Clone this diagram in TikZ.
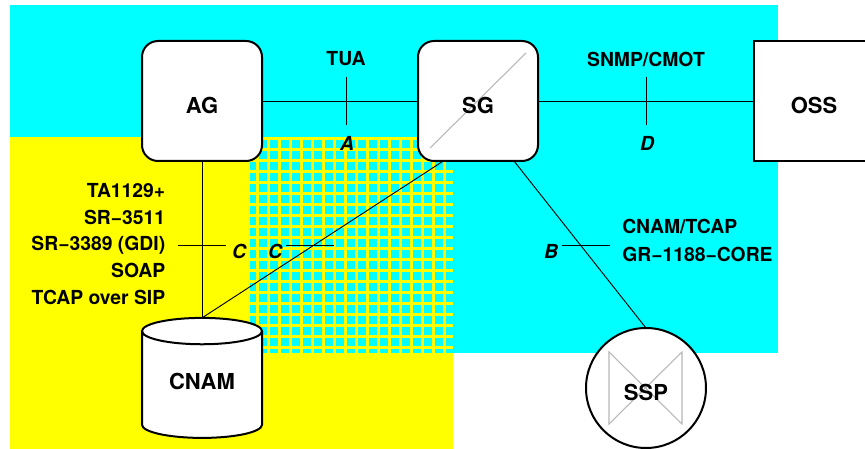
\documentclass[tikz,border=0pt]{standalone}
\usepackage{fontspec}
\setmainfont{TeX Gyre Heros}
\usepackage{xcolor}
\definecolor{vizCyan}{HTML}{00FFFF}
\definecolor{vizYellow}{HTML}{FFFF00}
\definecolor{vizMark}{HTML}{B8B8B8}
\usetikzlibrary{shapes.geometric}
\newcommand{\boxtext}[2][-9.5pt]{\raisebox{#1}[0pt][0pt]{#2}}
\tikzset{
  gatebox/.style={draw, fill=white, line width=1.5pt, rounded corners=12pt, minimum size=90pt, outer sep=0pt, inner sep=0pt, font=\fontsize{16.5}{18}\selectfont\bfseries},
  opsbox/.style={draw, fill=white, line width=1.5pt, minimum size=90pt, outer sep=0pt, inner sep=0pt, font=\fontsize{16.5}{18}\selectfont\bfseries},
  dbshape/.style={draw, fill=white, line width=1.5pt, cylinder, shape border rotate=90, aspect=0.4, minimum width=90pt, minimum height=90pt, outer sep=0pt, inner sep=0pt, font=\fontsize{16.5}{18}\selectfont\bfseries},
  switchshape/.style={draw, fill=white, circle, line width=1.5pt, minimum size=90pt, outer sep=0pt, inner sep=0pt, font=\fontsize{16.5}{18}\selectfont\bfseries},
  wire/.style={black, line width=0.7pt},
  crossmark/.style={vizMark, line width=0.8pt},
  protolabel/.style={font=\fontsize{14.5}{20}\selectfont\bfseries, inner sep=0pt},
  reflabel/.style={font=\fontsize{14.5}{20}\selectfont\bfseries\itshape, inner sep=0pt}
}
\begin{document}
\begin{tikzpicture}[x=0.75pt, y=-0.75pt]
  \useasboundingbox (0,0) rectangle (865,449);
  % regions
  \fill[vizCyan] (10,5) rectangle (778,353);
  \fill[vizYellow] (10,137) rectangle (453,449);
  \fill[vizCyan] (250,137) rectangle (453,353);
  \foreach \gx in {257.5,268.5,...,444.5} {
    \draw[vizYellow, line width=2.25pt] (\gx,137) -- (\gx,353);
  }
  \foreach \gy in {138.5,149.5,...,347.5} {
    \draw[vizYellow, line width=2.25pt] (250,\gy) -- (453,\gy);
  }
  % elements
  \node[gatebox, path picture={\draw[crossmark] ([shift={(-48,47)}]path picture bounding box.center) -- ([shift={(48,-48)}]path picture bounding box.center);}] (SG) at (478,101) {\boxtext{SG}};
  \node[gatebox] (AG) at (202,101) {\boxtext{AG}};
  \node[opsbox] (OSS) at (814,101) {\boxtext{OSS}};
  \node[dbshape] (CNAM) at (202,385) {\boxtext[-3pt]{CNAM}};
  \node[switchshape, path picture={\draw[crossmark] ([shift={(-37,-36)}]path picture bounding box.center) -- ([shift={(36,36)}]path picture bounding box.center) -- ([shift={(36,-36)}]path picture bounding box.center) -- ([shift={(-37,36)}]path picture bounding box.center) -- cycle;}] (SSP) at (646,388) {\boxtext{SSP}};
  % connectors
  \draw[wire] (AG) -- (SG);
  \draw[wire] (SG) -- (OSS);
  \draw[wire] (AG) -- (CNAM.top);
  \draw[wire] ([xshift=-26pt]SG.south) -- (CNAM.top);
  \draw[wire] ([xshift=27pt]SG.south) -- (SSP.north);
  % reference points
  \coordinate (tickAup) at (346,77);
  \coordinate (tickAdn) at (346,125);
  \coordinate (tickDup) at (646,77);
  \coordinate (tickDdn) at (646,125);
  \coordinate (tickCal) at (178,245);
  \coordinate (tickCar) at (226,245);
  \coordinate (tickCbl) at (286,245);
  \coordinate (tickCbr) at (334,245);
  \coordinate (tickBl) at (562,245);
  \coordinate (tickBr) at (610,245);
  \draw[wire] (tickAup) -- (tickAdn);
  \draw[wire] (tickDup) -- (tickDdn);
  \draw[wire] (tickCal) -- (tickCar);
  \draw[wire] (tickCbl) -- (tickCbr);
  \draw[wire] (tickBl) -- (tickBr);
  % labels
  \node[protolabel] (tua) at (346,59) {TUA};
  \node[protolabel] (snmp) at (646,59) {SNMP/CMOT};
  \node[protolabel, align=right, anchor=east] (cproto) at (165.5,244) {TA1129+\\SR−3511\\SR−3389 (GDI)\\SOAP\\TCAP over SIP};
  \node[protolabel, align=left, anchor=west] (bproto) at (622,240) {CNAM/TCAP\\[1pt]GR−1188−CORE};
  \node[reflabel] (refA) at (347,143) {A};
  \node[reflabel] (refD) at (647,143) {D};
  \node[reflabel] (refCa) at (239,251) {C};
  \node[reflabel] (refCb) at (275,251) {C};
  \node[reflabel] (refB) at (551,251) {B};
\end{tikzpicture}
\end{document}
